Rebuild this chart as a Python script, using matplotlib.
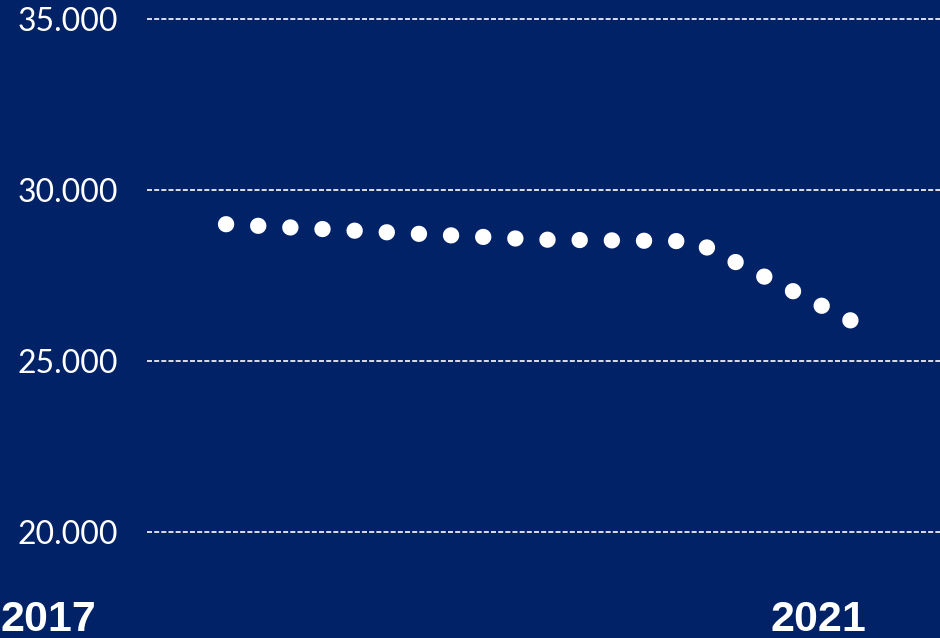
import matplotlib
matplotlib.use("Agg")
import matplotlib.pyplot as plt

# Data
years = [2017, 2018, 2019, 2020, 2021]
values = [29000, 28770, 28550, 28500, 26180]
ytick_values = [20000, 25000, 30000, 35000]
ytick_labels = ["20.000", "25.000", "30.000", "35.000"]
year_labels = ["2017", "2021"]

BG = "#012267"

fig = plt.figure(figsize=(9.4, 6.38), dpi=100)
fig.patch.set_facecolor(BG)

ax = fig.add_axes([147 / 940, (638 - 566.2) / 638, 1 - 147 / 940, 564.3 / 638])
ax.set_facecolor(BG)

ax.set_xlim(2017 - 79 / 156.25, 2021 + 89 / 156.25)
ax.set_ylim(19000, 35500)

for v in ytick_values:
    ax.axhline(v, color="white", lw=1.2, linestyle=(0, (3.0, 1.3)), zorder=1)

lw = 11.7
ax.plot(years, values, color="white", lw=lw, linestyle=(0, (0.01, 23.17 / lw - 0.01)),
        dash_capstyle="round", solid_capstyle="round", zorder=3)

ax.set_yticks(ytick_values)
ax.set_yticklabels(ytick_labels, color="white", fontsize=23,
                   family=["Lato", "DejaVu Sans"], fontweight="normal")
ax.tick_params(axis="y", length=0, pad=21)
ax.set_xticks([])
for s in ax.spines.values():
    s.set_visible(False)

fig.text(0 / 940, (638 - 630.7) / 638, year_labels[0], color="white", fontsize=31,
         fontweight="bold", family=["Liberation Sans", "DejaVu Sans"],
         ha="left", va="baseline")
fig.text(771 / 940, (638 - 630.7) / 638, year_labels[1], color="white", fontsize=31,
         fontweight="bold", family=["Liberation Sans", "DejaVu Sans"],
         ha="left", va="baseline")

fig.savefig("out.png", dpi=100, facecolor=BG)
